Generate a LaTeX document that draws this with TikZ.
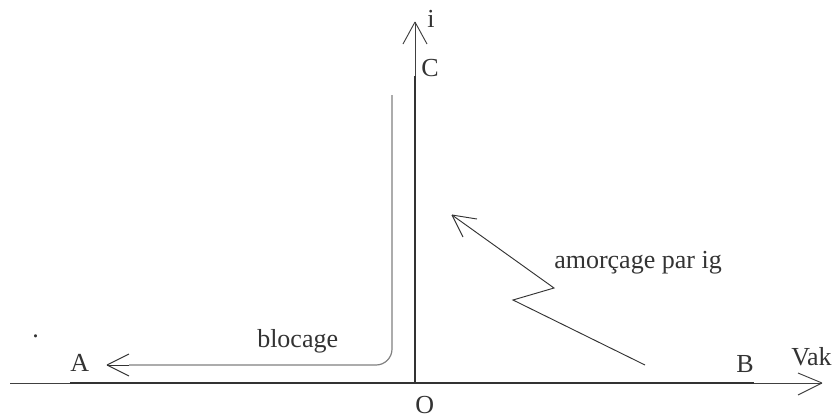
\documentclass[tikz,border=0pt]{standalone}
\usepackage{fontspec}
\setmainfont{Liberation Serif}
\begin{document}
\begin{tikzpicture}[x=0.75pt,y=-0.75pt,
  lbl/.style={font=\fontsize{19.5}{22}\selectfont, text=black!80, inner sep=0pt, anchor=base west},
  thinax/.style={draw=black!75, line width=0.7pt},
  thickax/.style={draw=black!80, line width=2.2pt},
  arr/.style={draw=black!80, line width=0.7pt},
  grayline/.style={draw=black!50, line width=0.9pt, rounded corners=12pt}]
\useasboundingbox (0,0) rectangle (832,419);
% coordinates
\coordinate (O) at (415,383);
\coordinate (Ct) at (415,76);
\coordinate (Itip) at (415,22);
\coordinate (Xl) at (10,383);
\coordinate (Al) at (70,383);
\coordinate (Br) at (754,383);
\coordinate (Xtip) at (822,383);
% axes
\draw[thinax] (Xl) -- (Al);
\draw[thickax, line cap=butt] (Al) -- (Br);
\draw[thinax] (Br) -- (Xtip);
\draw[thinax] (Xtip) -- ++(-24,-10) (Xtip) -- ++(-24,12);
\draw[thickax] (O) -- (Ct);
\draw[thinax] (Ct) -- (Itip);
\draw[thinax] (Itip) -- ++(-12,22) (Itip) -- ++(12,22);
% blocage
\coordinate (Bs) at (392,95);
\coordinate (Btip) at (107,365);
\draw[grayline] (Bs) -- (392,365) -- (129,365);
\draw[arr] (129,365) -- (Btip);
\draw[arr] (Btip) -- ++(22,-11) (Btip) -- ++(22,11);
% amorcage
\coordinate (Ms) at (645,365);
\coordinate (Mtip) at (452,215);
\draw[arr] (Ms) -- (513,300) -- (554,288) -- (Mtip);
\draw[arr] (Mtip) -- ++(25,4) (Mtip) -- ++(11,22);
% labels
\node[lbl] (li) at (427,27) {i};
\node[lbl] (lc) at (421,76) {C};
\node[lbl] (lo) at (415,413) {O};
\node[lbl] (la) at (70,371) {A};
\node[lbl] (lb) at (736,372) {B};
\node[lbl] (lv) at (791,365) {Vak};
\node[lbl] (lbl1) at (257,347) {blocage};
\node[lbl] (lbl2) at (554,268) {amorçage par ig};
\node[lbl] (dot) at (32,337) {.};
\end{tikzpicture}
\end{document}
